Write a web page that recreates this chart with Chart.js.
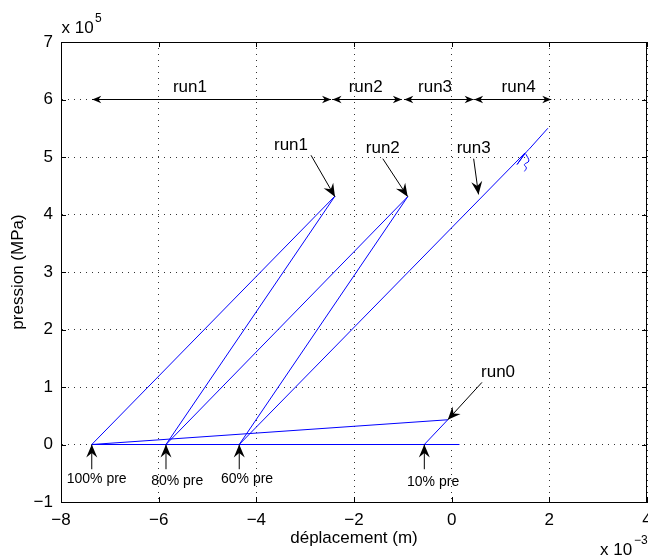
<!DOCTYPE html>
<html>
<head>
<meta charset="utf-8">
<script src="https://cdn.jsdelivr.net/npm/chart.js@4/dist/chart.umd.min.js"></script>
<style>
html,body{margin:0;padding:0;background:#fff;}
#wrap{width:648px;height:559px;position:relative;}
</style>
</head>
<body>
<div id="wrap"><canvas id="c"></canvas></div>
<script>
// ---- data (x in 1e-3 m, y in 1e5) ----
const xTicks = [-8, -6, -4, -2, 0, 2, 4];
const yTicks = [-1, 0, 1, 2, 3, 4, 5, 6, 7];

const cycleX = [-0.56, -0.08, -7.37, -2.39, -5.85, -0.90, -4.35, 1.50, 1.34, 1.53, 1.58, 1.97];
const cycleY = [0, 0.43, 0, 4.32, 0, 4.31, 0, 5.07, 4.87, 5.09, 5.13, 5.50];
const baseX = [-7.37, 0.16];
const baseY = [0, 0];
const wiggleX = [1.52, 1.58, 1.49, 1.53, 1.49];
const wiggleY = [5.05, 4.93, 4.87, 4.81, 4.75];

// range double arrows at y = 6
const rangeLabels = ['run1', 'run2', 'run3', 'run4'];
const rangeStart = [-7.36, -2.44, -0.97, 0.46];
const rangeEnd = [-2.47, -1.02, 0.45, 2.04];
const rangeLabelX = [-5.36, -1.76, -0.34, 1.37];
const rangeY = 6;
const rangeLabelY = 6.21;

// text arrows
const taLabels = ['run1', 'run2', 'run3', 'run0'];
const taTextX = [-3.29, -1.41, 0.45, 0.95];
const taTextY = [5.20, 5.15, 5.15, 1.25];
const taTailX = [-2.88, -1.41, 0.45, 0.62];
const taTailY = [5.03, 4.97, 4.97, 1.08];
const taTipX = [-2.39, -0.90, 0.55, -0.08];
const taTipY = [4.31, 4.31, 4.35, 0.43];

// preload arrows
const preLabels = ['100% pre', '80% pre', '60% pre', '10% pre'];
const preTipX = [-7.37, -5.85, -4.35, -0.56];
const preTailY = -0.43;
const preLabelX = [-7.27, -5.62, -4.19, -0.38];
const preLabelY = [-0.61, -0.64, -0.61, -0.66];

const toPts = (xs, ys) => xs.map((x, i) => ({x: x, y: ys[i]}));
const FONT = '"Liberation Sans", Arial, Helvetica, sans-serif';
const fmt = v => (v < 0 ? '\u2212' + Math.abs(v) : String(v));

function head(ctx, tx, ty, fx, fy, len, hw, notch) {
  let dx = fx - tx, dy = fy - ty;
  const L = Math.hypot(dx, dy) || 1;
  dx /= L; dy /= L;
  const nx = -dy, ny = dx;
  ctx.beginPath();
  ctx.moveTo(tx, ty);
  ctx.lineTo(tx + dx * len + nx * hw, ty + dy * len + ny * hw);
  ctx.lineTo(tx + dx * len * notch, ty + dy * len * notch);
  ctx.lineTo(tx + dx * len - nx * hw, ty + dy * len - ny * hw);
  ctx.closePath();
  ctx.fill();
}

const annot = {
  id: 'annot',
  afterDatasetsDraw(chart) {
    const ctx = chart.ctx, xs = chart.scales.x, ys = chart.scales.y;
    const X = v => xs.getPixelForValue(v), Y = v => ys.getPixelForValue(v);
    const a = chart.chartArea;
    ctx.save();
    ctx.setLineDash([]);
    // box & inner ticks
    ctx.strokeStyle = '#000'; ctx.lineWidth = 1;
    ctx.strokeRect(Math.round(a.left) + 0.5, Math.round(a.top) + 0.5, Math.round(a.right - a.left) - 1, Math.round(a.bottom - a.top));
    ctx.beginPath();
    xTicks.forEach(t => {
      const px = Math.round(X(t)) + 0.5;
      ctx.moveTo(px, a.bottom); ctx.lineTo(px, a.bottom - 5);
      ctx.moveTo(px, a.top); ctx.lineTo(px, a.top + 5);
    });
    yTicks.forEach(t => {
      const py = Math.round(Y(t)) + 0.5;
      ctx.moveTo(a.left, py); ctx.lineTo(a.left + 5, py);
      ctx.moveTo(a.right, py); ctx.lineTo(a.right - 5, py);
    });
    ctx.stroke();

    ctx.fillStyle = '#000'; ctx.strokeStyle = '#000';
    ctx.textAlign = 'center'; ctx.textBaseline = 'middle';
    // range arrows
    ctx.font = '17px ' + FONT;
    rangeLabels.forEach((lab, i) => {
      const x1 = X(rangeStart[i]), x2 = X(rangeEnd[i]), y = Y(rangeY);
      ctx.beginPath(); ctx.moveTo(x1, y); ctx.lineTo(x2, y); ctx.stroke();
      head(ctx, x1, y, x2, y, 9, 3.8, 0.7);
      head(ctx, x2, y, x1, y, 9, 3.8, 0.7);
      ctx.fillText(lab, X(rangeLabelX[i]), Y(rangeLabelY));
    });
    // text arrows
    taLabels.forEach((lab, i) => {
      const tx = X(taTailX[i]), ty = Y(taTailY[i]), px = X(taTipX[i]), py = Y(taTipY[i]);
      ctx.beginPath(); ctx.moveTo(tx, ty); ctx.lineTo(px, py); ctx.stroke();
      head(ctx, px, py, tx, ty, 13, 5.5, 0.65);
      ctx.fillText(lab, X(taTextX[i]), Y(taTextY[i]));
    });
    // pre arrows
    ctx.font = '14px ' + FONT;
    preLabels.forEach((lab, i) => {
      const px = X(preTipX[i]), py = Y(0), ty = Y(preTailY);
      ctx.beginPath(); ctx.moveTo(px, ty); ctx.lineTo(px, py); ctx.stroke();
      head(ctx, px, py, px, ty, 13, 5.5, 0.65);
      ctx.fillText(lab, X(preLabelX[i]), Y(preLabelY[i]));
    });
    // exponents
    ctx.textAlign = 'left'; ctx.textBaseline = 'alphabetic';
    ctx.font = '17px ' + FONT;
    ctx.fillText('x 10', a.left + 0.5, 33);
    ctx.font = '12px ' + FONT;
    ctx.fillText('5', a.left + 34, 22);
    ctx.font = '17px ' + FONT;
    ctx.fillText('x 10', 600, 555);
    ctx.font = '12px ' + FONT;
    ctx.fillText('\u22123', 634, 544);
    ctx.restore();
  }
};

const gridCfg = {color: '#333', lineWidth: 1, drawTicks: false};
const borderCfg = {display: true, color: '#000', width: 1, dash: [1, 5]};

new Chart(document.getElementById('c'), {
  type: 'scatter',
  data: {
    datasets: [
      {data: toPts(baseX, baseY), showLine: true, borderColor: '#0000ff', borderWidth: 1, pointRadius: 0, tension: 0},
      {data: toPts(cycleX, cycleY), showLine: true, borderColor: '#0000ff', borderWidth: 1, pointRadius: 0, tension: 0},
      {data: toPts(wiggleX, wiggleY), showLine: true, borderColor: '#0000ff', borderWidth: 1, pointRadius: 0, tension: 0.4}
    ]
  },
  options: {
    responsive: true,
    maintainAspectRatio: false,
    animation: false,
    events: [],
    layout: {padding: {top: 42, right: 1, left: 0, bottom: 0}},
    plugins: {legend: {display: false}, tooltip: {enabled: false}},
    scales: {
      x: {
        type: 'linear', min: -8, max: 4,
        afterBuildTicks: s => { s.ticks = xTicks.map(v => ({value: v})); },
        afterFit: s => { s.height = 57; s.paddingLeft = 0; s.paddingRight = 0; },
        grid: gridCfg,
        border: borderCfg,
        ticks: {color: '#000', font: {family: FONT, size: 17}, padding: 8, maxRotation: 0, autoSkip: false, callback: fmt},
        title: {display: true, text: 'déplacement (m)', color: '#000', font: {family: FONT, size: 17}, padding: {top: 0, bottom: 10}}
      },
      y: {
        type: 'linear', min: -1, max: 7,
        afterBuildTicks: s => { s.ticks = yTicks.map(v => ({value: v})); },
        afterFit: s => { s.width = 61; s.paddingTop = 0; s.paddingBottom = 0; },
        grid: gridCfg,
        border: borderCfg,
        ticks: {color: '#000', font: {family: FONT, size: 17}, padding: 8, autoSkip: false, callback: fmt},
        title: {display: true, text: 'pression (MPa)', color: '#000', font: {family: FONT, size: 17}, padding: {top: 8, bottom: 0}}
      }
    }
  },
  plugins: [annot]
});
</script>
</body>
</html>
